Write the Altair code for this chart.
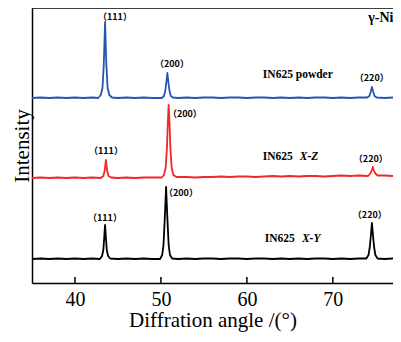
import altair as alt
import pandas as pd

SERIF = "'Liberation Serif', 'Times New Roman', Times, 'DejaVu Serif', serif"
HKL_FONT = "'Noto Sans CJK SC', 'Liberation Serif', serif"

# ---- data (y in arbitrary intensity units) ----
blue_x = [35, 36, 37, 38, 39, 40, 41, 42,
          42.7, 43.0, 43.2, 43.35, 43.5, 43.65, 43.8, 44.0, 44.3,
          45, 46, 47, 48, 49,
          50.1, 50.35, 50.5, 50.62, 50.75, 50.88, 51.0, 51.15, 51.4,
          52, 53, 54, 55, 56, 57, 58, 59, 60, 61, 62, 63, 64, 65, 66, 67, 68, 69, 70, 71, 72, 73,
          74.0, 74.25, 74.4, 74.55, 74.7, 74.85, 75.1,
          76, 77]
blue_y = [185, 185.5, 185, 185.5, 185, 185.5, 185, 185.5,
          185, 188, 195, 218, 261, 218, 195, 188, 185.5,
          185, 185.5, 185, 185.5, 185,
          185, 187, 192, 200, 210, 200, 192, 187, 185.5,
          185, 185.5, 185, 185.5, 185.5, 185, 185.5, 185.5, 185, 185.5, 185.5, 185, 185.5, 185, 185.5, 185, 185.5, 185.5, 185, 185.5, 185, 185.5,
          185.5, 187, 191, 196, 191, 187, 185.5,
          185, 185.5]

red_x = [35, 36, 37, 38, 39, 40, 41, 42,
         43.0, 43.3, 43.45, 43.6, 43.75, 43.9, 44.2,
         45, 46, 47, 48, 49,
         50.1, 50.35, 50.55, 50.7, 50.8, 50.9, 51.0, 51.1, 51.25, 51.45, 51.8,
         53, 54, 55, 56, 57, 58, 59, 60, 61, 62, 63, 64, 65, 66, 67, 68, 69, 70, 71, 72, 73,
         74.1, 74.4, 74.55, 74.65, 74.75, 74.9, 75.2,
         76, 77]
red_y = [105, 105.5, 105, 105.5, 105, 105.5, 105, 105.5,
         105, 107, 112, 123, 112, 107, 105.5,
         105, 105.5, 105, 105.5, 105.5,
         105.5, 108, 115, 135, 160, 178, 160, 135, 115, 108, 106,
         106, 105.5, 106, 106, 106.5, 106, 106.5, 106.5, 106, 106.5, 107, 106.5, 107, 106.5, 107, 107, 106.5, 107, 107.5, 107, 107.5,
         107, 110, 113, 116, 113, 110, 107.5,
         107.5, 107]

black_x = [35, 36, 37, 38, 39, 40, 41, 42,
           42.9, 43.15, 43.3, 43.4, 43.5, 43.6, 43.7, 43.85, 44.1,
           45, 46, 47, 48, 49,
           49.9, 50.15, 50.3, 50.45, 50.6, 50.75, 50.9, 51.05, 51.3,
           52, 53, 54, 55, 56, 57, 58, 59, 60, 61, 62, 63, 64, 65, 66, 67, 68, 69, 70, 71, 72, 73,
           73.9, 74.15, 74.3, 74.43, 74.55, 74.67, 74.8, 74.95, 75.2,
           76, 77]
black_y = [24, 24.5, 24, 24.5, 24, 24.5, 24, 24.5,
           24, 27, 33, 45, 58, 45, 33, 27, 24.5,
           24, 24.5, 24, 24.5, 24,
           24, 28, 38, 65, 96, 65, 38, 28, 24.5,
           24, 24.5, 24, 24.5, 24.5, 24, 24.5, 24.5, 24, 24.5, 24.5, 24, 24.5, 24, 24.5, 24, 24.5, 24.5, 24, 24.5, 24, 24.5,
           24.5, 28, 36, 48, 60, 48, 36, 28, 24.5,
           24, 24.5]

series_names = ["IN625 powder", "IN625 X-Z", "IN625 X-Y"]
series_colors = ["#2456b0", "#f02828", "#000000"]

x_ticks = [40, 50, 60, 70]

hkl_text = ["（111）", "（200）", "（220）",
            "（111）", "（200）", "（220）",
            "（111）", "（200）", "（220）"]
hkl_x = [44.65, 51.28, 74.53, 43.6, 52.79, 74.42, 43.49, 52.33, 74.3]
hkl_y = [266, 219, 205, 132, 169, 124, 65, 90, 68]

name_text = ["IN625", "IN625"]
name_x = [65.35, 65.58]
name_y = [126, 44]
ital_text = ["X-Z", "X-Y"]
ital_x = [66.16, 66.4]
ital_y = [126, 44]
powder_text = ["IN625 powder"]
powder_x = [65.93]
powder_y = [208]
phase_text = ["γ-Ni"]
phase_x = [75.58]
phase_y = [265]

# ---- build tables ----
df = pd.concat([
    pd.DataFrame({"x": blue_x, "y": blue_y, "s": series_names[0]}),
    pd.DataFrame({"x": red_x, "y": red_y, "s": series_names[1]}),
    pd.DataFrame({"x": black_x, "y": black_y, "s": series_names[2]}),
], ignore_index=True)

W, H = 361, 275
xs = alt.Scale(domain=[35, 77], nice=False, zero=False)
ys = alt.Scale(domain=[0, 275], nice=False, zero=False)

lines = alt.Chart(df).mark_line(strokeWidth=1.8, strokeJoin="round").encode(
    x=alt.X("x:Q", scale=xs, axis=alt.Axis(
        values=x_ticks, ticks=False, grid=False, format="d",
        labelFont=SERIF, labelFontSize=20, labelColor="black", labelPadding=6,
        title="Diffration angle /(°)", titleFont=SERIF, titleFontSize=21,
        titleFontWeight="normal", titleColor="black", titlePadding=0,
        domainColor="black", domainWidth=1.5)),
    y=alt.Y("y:Q", scale=ys, axis=alt.Axis(
        labels=False, ticks=False, grid=False,
        title="Intensity", titleFont=SERIF, titleFontSize=21,
        titleFontWeight="normal", titleColor="black", titlePadding=0,
        domainColor="black", domainWidth=1.5)),
    color=alt.Color("s:N", scale=alt.Scale(domain=series_names, range=series_colors), legend=None),
)

ticks = alt.Chart(pd.DataFrame({"x": x_ticks})).mark_rule(color="black", strokeWidth=1.5).encode(
    x=alt.X("x:Q", scale=xs), y=alt.datum(0), y2=alt.datum(6))

top = alt.Chart(pd.DataFrame({"a": [0]})).mark_rule(color="black", strokeWidth=1.5).encode(
    x=alt.value(0), x2=alt.value(W), y=alt.value(0))

def text_layer(xv, yv, tv, **kw):
    d = pd.DataFrame({"x": xv, "y": yv, "t": tv})
    return alt.Chart(d).mark_text(color="black", baseline="middle", **kw).encode(
        x=alt.X("x:Q", scale=xs), y=alt.Y("y:Q", scale=ys), text="t:N")

hkl = text_layer(hkl_x, hkl_y, hkl_text, font=HKL_FONT, fontSize=9, fontWeight="bold", align="center")
names = text_layer(name_x, name_y, name_text, font=SERIF, fontSize=11.5, fontWeight="bold", align="right")
itals = text_layer(ital_x, ital_y, ital_text, font=SERIF, fontSize=11.5, fontWeight="bold",
                   fontStyle="italic", align="left")
powder = text_layer(powder_x, powder_y, powder_text, font=SERIF, fontSize=11.5, fontWeight="bold", align="center")
phase = text_layer(phase_x, phase_y, phase_text, font=SERIF, fontSize=14, fontWeight="bold", align="center")

chart = alt.layer(lines, ticks, top, hkl, names, itals, powder, phase).properties(
    width=W, height=H, autosize="none",
    padding={"left": 24, "top": 0, "right": 0, "bottom": 51},
).configure_view(stroke=None)

chart.save("out.html", embed_options={"renderer": "svg", "actions": False})
